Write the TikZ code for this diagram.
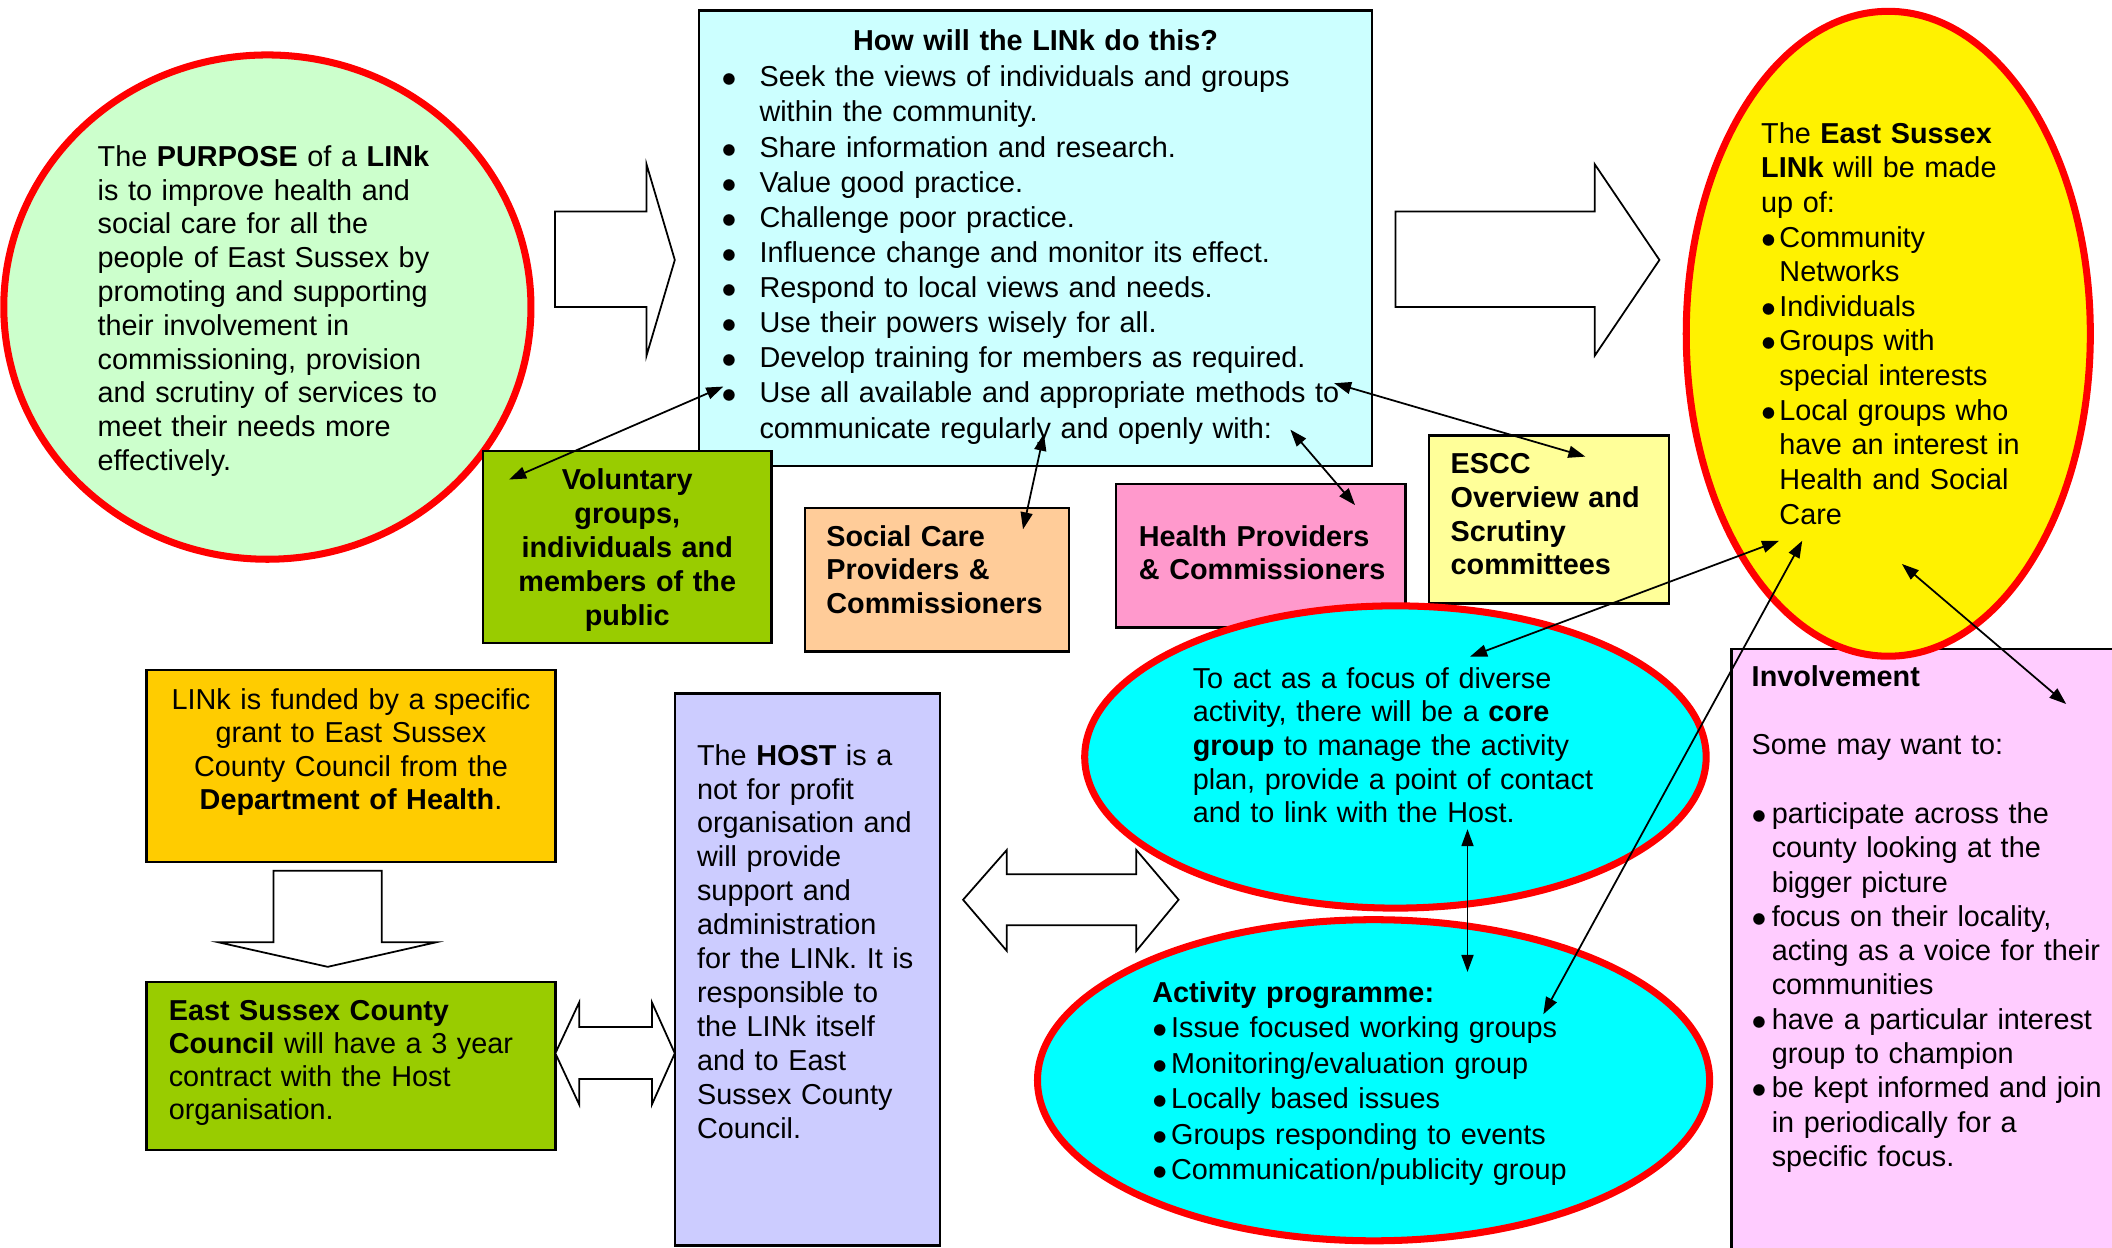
\documentclass[tikz,border=0pt]{standalone}
\usepackage{fontspec}
\setmainfont{Liberation Sans}
\usetikzlibrary{shapes.geometric,arrows.meta,positioning}

\newcommand{\dpx}{0.01347cm}
\newcommand{\bul}[1]{\makebox[#1][l]{$\bullet$}}
\newcommand{\bulind}[1]{\hspace*{#1}}
\frenchspacing

\definecolor{mint}{HTML}{CCFFCC}
\definecolor{paleaqua}{HTML}{CCFFFF}
\definecolor{volgreen}{HTML}{99CC00}
\definecolor{peach}{HTML}{FFCC99}
\definecolor{rose}{HTML}{FF99CC}
\definecolor{paleyellow}{HTML}{FFFF99}
\definecolor{lilac}{HTML}{FFCCFF}
\definecolor{aqua}{HTML}{00FFFF}
\definecolor{amber}{HTML}{FFCC00}
\definecolor{lavender}{HTML}{CCCCFF}

\tikzset{
  box/.style={draw, rectangle, line width=0.7pt, inner sep=0pt},
  blob/.style={draw=red, ellipse, line width=2pt, inner sep=0pt},
  txt/.style={inner sep=0pt, anchor=base west, align=left, text width=#1},
  ctxt/.style={inner sep=0pt, anchor=base, align=center, text width=#1},
  leading/.style={font=\fontsize{8.2pt}{#1}\selectfont},
  boldleading/.style={font=\fontsize{8.2pt}{#1}\selectfont\bfseries},
  blockarrow/.style={draw, fill=white, line width=0.5pt, line join=miter},
  link/.style={{Triangle[length=1.7mm,width=1.2mm]}-{Triangle[length=1.7mm,width=1.2mm]}, line width=0.5pt},
}

\begin{document}
\begin{tikzpicture}[x=\dpx, y=-\dpx]
\clip (0,0) rectangle (1568,926.55);

% purpose
\node[blob, fill=mint, minimum width=391.4*\dpx, minimum height=374.4*\dpx] (purpose) at (198.5,228) {};
\node[txt=120pt, leading=9.62pt] (purposetext) at (72,123.5) {The \textbf{PURPOSE} of a \textbf{LINk}\\
is to improve health and\\ social care for all the\\ people of East Sussex by\\
promoting and supporting\\ their involvement in\\ commissioning, provision\\
and scrutiny of services to\\ meet their needs more\\ effectively.};

\draw[blockarrow] (412,157) -- (480,157) -- (480,122) -- (501,193) -- (480,264) -- (480,228) -- (412,228) -- cycle;
\draw[blockarrow] (1036,157) -- (1184,157) -- (1184,122) -- (1232,193) -- (1184,264) -- (1184,228) -- (1036,228) -- cycle;

% how
\node[box, fill=paleaqua, minimum width=499.6*\dpx, minimum height=338.1*\dpx] (how) at (768.8,177) {};
\node[ctxt=220pt, boldleading=10pt] (howtitle) at (768.8,37.5) {How will the LINk do this?};
\node[txt=210pt, leading=10pt] (howlist) at (535.2,64.4) {\bul{10.8pt}Seek the views of individuals and groups\\
\bulind{10.8pt}within the community.\\
\bul{10.8pt}Share information and research.\\
\bul{10.8pt}Value good practice.\\
\bul{10.8pt}Challenge poor practice.\\
\bul{10.8pt}Influence change and monitor its effect.\\
\bul{10.8pt}Respond to local views and needs.\\
\bul{10.8pt}Use their powers wisely for all.\\
\bul{10.8pt}Develop training for members as required.\\
\bul{10.8pt}Use all available and appropriate methods to\\
\bulind{10.8pt}communicate regularly and openly with:};

% partners
\node[box, fill=volgreen, minimum width=214.2*\dpx, minimum height=142.5*\dpx] (vol) at (465.7,406.25) {};
\node[ctxt=100pt, boldleading=9.66pt] (voltext) at (465.7,363.5) {Voluntary\\ groups,\\ individuals and\\ members of the\\ public};
\node[box, fill=peach, minimum width=195.9*\dpx, minimum height=106.6*\dpx] (soc) at (695.65,430.3) {};
\node[txt=80pt, boldleading=9.6pt] (soctext) at (613,405.5) {Social Care\\ Providers \&\\ Commissioners};
\node[box, fill=rose, minimum width=214.6*\dpx, minimum height=106.6*\dpx] (hea) at (936,412.7) {};
\node[txt=80pt, boldleading=9.6pt] (featext) at (845,405.5) {Health Providers\\ \& Commissioners};
\node[box, fill=paleyellow, minimum width=178*\dpx, minimum height=124.8*\dpx] (esc) at (1150,385.8) {};
\node[txt=70pt, boldleading=9.62pt] (esctext) at (1076.5,351.5) {ESCC\\ Overview and\\ Scrutiny\\ committees};

% involvement
\node[box, fill=lilac, minimum width=294.4*\dpx, minimum height=458.3*\dpx] (inv) at (1432.8,710.85) {};
\node[txt=110pt, leading=9.76pt] (invtext) at (1300,509.5) {\textbf{Involvement}\\[9.76pt]
Some may want to:\\[9.76pt]
\bul{5.7pt}participate across the\\ \bulind{5.7pt}county looking at the\\ \bulind{5.7pt}bigger picture\\
\bul{5.7pt}focus on their locality,\\ \bulind{5.7pt}acting as a voice for their\\ \bulind{5.7pt}communities\\
\bul{5.7pt}have a particular interest\\ \bulind{5.7pt}group to champion\\
\bul{5.7pt}be kept informed and join\\ \bulind{5.7pt}in periodically for a\\ \bulind{5.7pt}specific focus.};

% made up of
\node[blob, fill=yellow, minimum width=300*\dpx, minimum height=478.8*\dpx] (madeup) at (1401.9,247.8) {};
\node[txt=80pt, leading=9.85pt] (madeuptext) at (1307,106.4) {The \textbf{East Sussex}\\ \textbf{LINk} will be made\\ up of:\\
\bul{5.2pt}Community\\ \bulind{5.2pt}Networks\\
\bul{5.2pt}Individuals\\
\bul{5.2pt}Groups with\\ \bulind{5.2pt}special interests\\
\bul{5.2pt}Local groups who\\ \bulind{5.2pt}have an interest in\\ \bulind{5.2pt}Health and Social\\ \bulind{5.2pt}Care};

% funding and host
\node[box, fill=amber, minimum width=303.4*\dpx, minimum height=142.7*\dpx] (fund) at (260.6,568.65) {};
\node[ctxt=115pt, leading=9.55pt] (fundtext) at (260.6,526.5) {LINk is funded by a specific\\ grant to East Sussex\\ County Council from the\\ \textbf{Department of Health}.};
\draw[blockarrow] (203,646.4) -- (283.4,646.4) -- (283.4,699.6) -- (323.7,699.6) -- (243.3,717.8) -- (162.3,699.6) -- (203,699.6) -- cycle;
\node[box, fill=volgreen, minimum width=303.4*\dpx, minimum height=124.7*\dpx] (council) at (260.6,791.35) {};
\node[txt=110pt, leading=9.45pt] (counciltext) at (124.8,757.5) {\textbf{East Sussex County}\\ \textbf{Council} will have a 3 year\\ contract with the Host\\ organisation.};
\draw[blockarrow] (412.3,782) -- (430,744.2) -- (430,762.5) -- (484,762.5) -- (484,744.2) -- (501,782) -- (484,820) -- (484,801) -- (430,801) -- (430,820) -- cycle;
\node[box, fill=lavender, minimum width=197*\dpx, minimum height=409.7*\dpx] (host) at (599.5,719.85) {};
\node[txt=75pt, leading=9.66pt] (hosttext) at (517,568) {The \textbf{HOST} is a\\ not for profit\\ organisation and\\ will provide\\
support and\\ administration\\ for the LINk. It is\\ responsible to\\ the LINk itself\\ and to East\\ Sussex County\\ Council.};

% core group and activities
\node[blob, fill=aqua, minimum width=461.4*\dpx, minimum height=224.4*\dpx] (core) at (1036,562) {};
\node[txt=125pt, leading=9.6pt] (coretext) at (885,510.8) {To act as a focus of diverse\\ activity, there will be a \textbf{core}\\
\textbf{group} to manage the activity\\ plan, provide a point of contact\\ and to link with the Host.};
\node[blob, fill=aqua, minimum width=499*\dpx, minimum height=238.4*\dpx] (act) at (1019.75,802) {};
\node[txt=125pt, leading=10.1pt] (acttext) at (855,744) {\textbf{Activity programme:}\\
\bul{5.35pt}Issue focused working groups\\ \bul{5.35pt}Monitoring/evaluation group\\
\bul{5.35pt}Locally based issues\\ \bul{5.35pt}Groups responding to events\\
\bul{5.35pt}Communication/publicity group};
\draw[blockarrow] (715,668) -- (747.5,631) -- (747.5,649) -- (843.6,649) -- (843.6,631) -- (875,668) -- (843.6,706) -- (843.6,687) -- (747.5,687) -- (747.5,706) -- cycle;

% links
\coordinate (volend) at (378,356);
\coordinate (howvol) at (537,287);
\coordinate (howsoc) at (775,322);
\coordinate (socend) at (759.5,393);
\coordinate (howhea) at (958,319);
\coordinate (heaend) at (1006,375);
\coordinate (howesc) at (990.5,284.5);
\coordinate (escend) at (1177,339);
\coordinate (coretop) at (1091.4,487.5);
\coordinate (madecore) at (1320.8,401.5);
\coordinate (corebot) at (1089.5,615.6);
\coordinate (acttop) at (1089.5,721.6);
\coordinate (actend) at (1145.8,753);
\coordinate (madeact) at (1338,401.5);
\coordinate (madeinv) at (1412,418.7);
\coordinate (invend) at (1534,522.7);
\draw[link] (volend) -- (howvol);
\draw[link] (howsoc) -- (socend);
\draw[link] (howhea) -- (heaend);
\draw[link] (howesc) -- (escend);
\draw[link] (coretop) -- (madecore);
\draw[link] (corebot) -- (acttop);
\draw[link] (actend) -- (madeact);
\draw[link] (madeinv) -- (invend);
\end{tikzpicture}
\end{document}
